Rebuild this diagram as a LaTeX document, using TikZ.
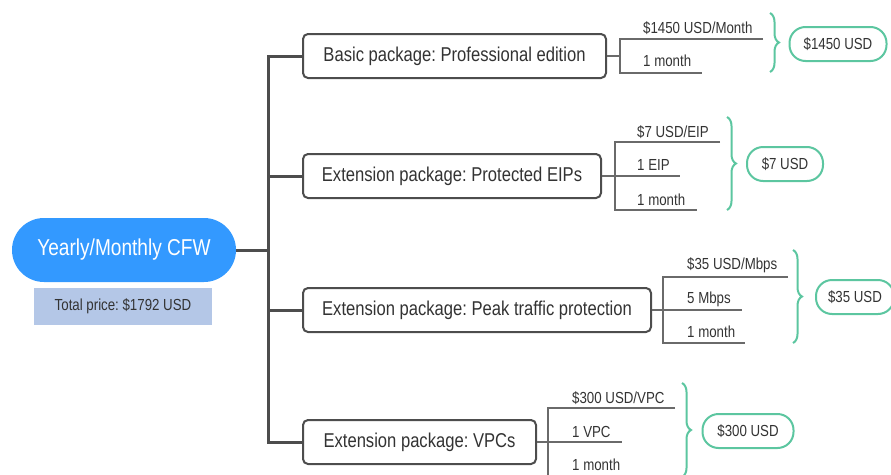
\documentclass[tikz,border=0pt]{standalone}
\usepackage{fontspec}
\setmainfont[FakeStretch=0.83]{Liberation Sans}
\usetikzlibrary{decorations.pathreplacing}
\definecolor{cfwblue}{HTML}{3399FF}
\definecolor{pricebg}{HTML}{B4C7E7}
\definecolor{trunkgray}{HTML}{4D4D4D}
\definecolor{leafgray}{HTML}{6A6A6A}
\definecolor{sumgreen}{HTML}{5CC6A0}
\definecolor{txtgray}{HTML}{333333}
\frenchspacing
\begin{document}
\begin{tikzpicture}[x=1pt, y=-1pt,
    root/.style={fill=cfwblue, text=white, minimum width=224pt, minimum height=64pt,
      rounded corners=32pt, font=\fontsize{23}{23}\selectfont},
    pkg/.style={draw=trunkgray, line width=2pt, rounded corners=5pt, fill=white, text=txtgray,
      anchor=west, minimum height=44pt, font=\fontsize{20}{20}\selectfont},
    trunk/.style={draw=trunkgray, line width=3pt},
    leaf/.style={draw=leafgray, line width=1.2pt},
    leaftext/.style={anchor=base west, inner sep=0pt, text=txtgray, font=\fontsize{16}{16}\selectfont},
    sumbrace/.style={draw=sumgreen, line width=2pt, decorate, decoration={brace, amplitude=9pt}},
    total/.style={draw=sumgreen, line width=2pt, fill=white, text=txtgray, rounded corners=16pt,
      minimum height=34pt, font=\fontsize{16}{16}\selectfont}]
  \useasboundingbox (0,0) rectangle (891,474);
  \clip (0,0) rectangle (891,474);

  % root and price
  \node[root] (cfw) at (124,250) {Yearly/Monthly CFW};
  \node[fill=pricebg, text=txtgray, minimum width=178pt, minimum height=37pt,
        font=\fontsize{16}{16}\selectfont] (price) at (123,306.5) {Total price: \$1792 USD};

  % packages
  \node[pkg, minimum width=303pt] (basic) at (302,56) {Basic package: Professional edition};
  \node[pkg, minimum width=298pt] (eip) at (302,176) {Extension package: Protected EIPs};
  \node[pkg, minimum width=348pt] (peak) at (302,310) {Extension package: Peak traffic protection};
  \node[pkg, minimum width=233pt] (vpc) at (302,442) {Extension package: VPCs};

  \coordinate (hub) at (268,250);
  \draw[trunk] (cfw.east) -- (hub);
  \draw[trunk] (hub) |- (basic.west) (hub) |- (eip.west)
               (hub) |- (peak.west) (hub) |- (vpc.west);

  % basic: price per month
  \coordinate (bj) at (620,56);
  \node[leaftext] (b1) at (643,33) {\$1450 USD/Month};
  \node[leaftext] (b2) at (643,66) {1 month};
  \draw[leaf] (basic.east) -- (bj);
  \draw[leaf] (763,39) -| (bj) |- (702,73);
  \draw[sumbrace] (770,13) -- (770,72);
  \node[total, minimum width=97pt] (bsum) at (838,44) {\$1450 USD};

  % protected EIPs
  \coordinate (ej) at (615,176);
  \node[leaftext] (e1) at (637,137) {\$7 USD/EIP};
  \node[leaftext] (e2) at (637,170) {1 EIP};
  \node[leaftext] (e3) at (637,205) {1 month};
  \draw[leaf] (eip.east) -- (680,176);
  \draw[leaf] (720,142) -| (ej) |- (697,210);
  \draw[sumbrace] (727,117) -- (727,210);
  \node[total, minimum width=76pt] (esum) at (785,164) {\$7 USD};

  % peak traffic
  \coordinate (pj) at (663,310);
  \node[leaftext] (p1) at (687,269) {\$35 USD/Mbps};
  \node[leaftext] (p2) at (687,303) {5 Mbps};
  \node[leaftext] (p3) at (687,337) {1 month};
  \draw[leaf] (peak.east) -- (742,310);
  \draw[leaf] (788,277) -| (pj) |- (745,343);
  \draw[sumbrace] (793,250) -- (793,343);
  \node[total, minimum width=78pt] (psum) at (855,297) {\$35 USD};

  % VPCs
  \coordinate (vj) at (548,442);
  \node[leaftext] (v1) at (572,403) {\$300 USD/VPC};
  \node[leaftext] (v2) at (572,437) {1 VPC};
  \node[leaftext] (v3) at (572,470) {1 month};
  \draw[leaf] (vpc.east) -- (622,442);
  \draw[leaf] (675,408) -| (vj) |- (626,476);
  \draw[sumbrace] (682,383) -- (682,477);
  \node[total, minimum width=91pt] (vsum) at (748,431) {\$300 USD};
\end{tikzpicture}
\end{document}
